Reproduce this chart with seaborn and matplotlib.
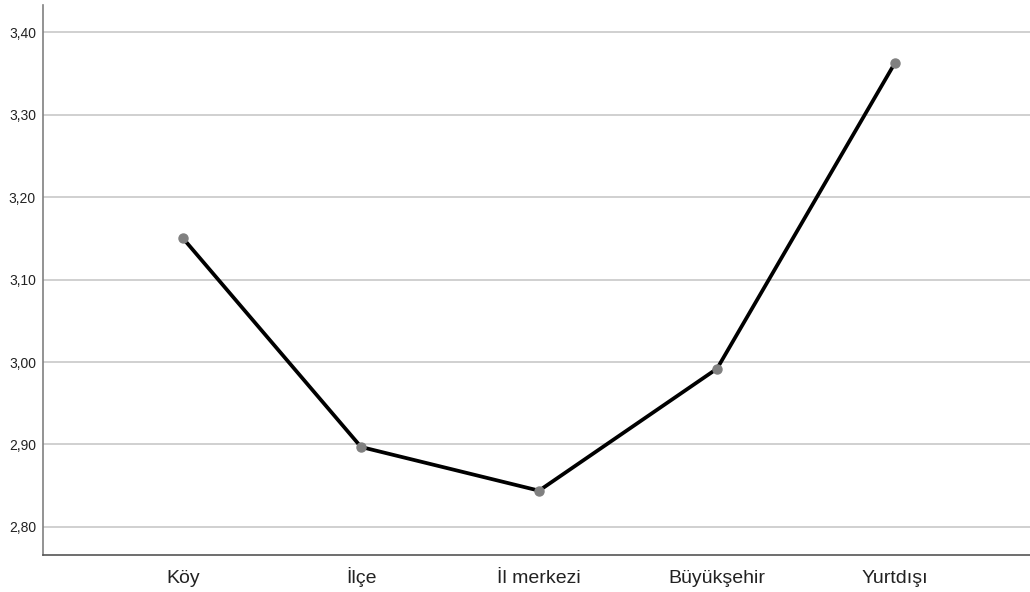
import matplotlib
matplotlib.use("Agg")
import matplotlib.pyplot as plt
import matplotlib.ticker as mticker
import seaborn as sns
import pandas as pd

# veriler
kategoriler = ["Köy", "İlçe", "İl merkezi", "Büyükşehir", "Yurtdışı"]
ortalamalar = [3.150, 2.897, 2.844, 2.992, 3.363]
y_ticks = [2.80, 2.90, 3.00, 3.10, 3.20, 3.30, 3.40]

df = pd.DataFrame({"yer": kategoriler, "ortalama": ortalamalar})
df["x"] = range(len(df))

sns.set_style("white")
plt.rcParams["font.family"] = ["Liberation Sans", "DejaVu Sans"]

fig = plt.figure(figsize=(10.3, 5.92), dpi=100)
ax = fig.add_axes([0.0417, 0.0625, 0.9583, 0.9291])

ax.set_yticks(y_ticks)
for t in y_ticks:
    ax.axhline(t, color="#c8c8c8", lw=1.2, zorder=0)

sns.lineplot(data=df, x="x", y="ortalama", color="black", lw=2.7, ax=ax, zorder=2)
ax.plot(df["x"], df["ortalama"], "o", color="#808080", ms=6.5, zorder=3)

ax.set_xlim(-0.787, 4.758)
ax.set_ylim(2.766, 3.433)
ax.set_xticks(df["x"])
ax.set_xticklabels(kategoriler, fontsize=14, color="#222222", va="baseline")
ax.yaxis.set_major_formatter(mticker.FuncFormatter(lambda v, p: f"{v:.2f}".replace(".", ",")))
ax.tick_params(axis="y", labelsize=10, colors="#222222", length=0, pad=5)
ax.tick_params(axis="x", length=0, pad=20)
ax.set_xlabel("")
ax.set_ylabel("")

for s in ["top", "right"]:
    ax.spines[s].set_visible(False)
ax.spines["left"].set_color("#808080")
ax.spines["bottom"].set_color("#555555")
ax.spines["left"].set_linewidth(1.2)
ax.spines["bottom"].set_linewidth(1.2)

fig.savefig("out.png", dpi=100)
